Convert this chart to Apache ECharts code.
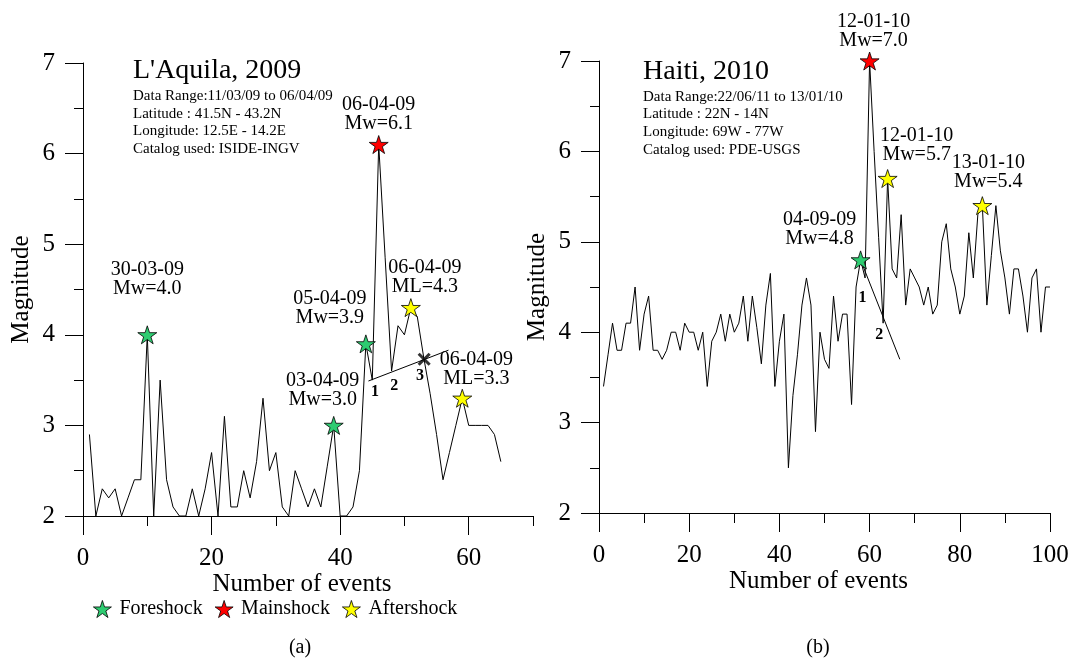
<!DOCTYPE html>
<html><head><meta charset="utf-8">
<script src="https://cdn.jsdelivr.net/npm/echarts@6/dist/echarts.min.js"></script>
<style>html,body{margin:0;padding:0;background:#fff}#c{width:1072px;height:660px}</style>
</head><body><div id="c"></div>
<script>
const FONT = '"Liberation Serif", "Times New Roman", serif';

// ---- data ----
const aquilaMag = [2.9, 2.0, 2.3, 2.2, 2.3, 2.0, 2.2, 2.4, 2.4, 4.0,
  2.0, 3.5, 2.4, 2.1, 2.0, 2.0, 2.3, 2.0, 2.3, 2.7,
  2.0, 3.1, 2.1, 2.1, 2.5, 2.2, 2.6, 3.3, 2.5, 2.7,
  2.1, 2.0, 2.5, 2.3, 2.1, 2.3, 2.1, 2.55, 3.0, 2.0,
  2.0, 2.1, 2.5, 3.9, 3.5, 6.1, 4.85, 3.6, 4.1, 4.0,
  4.3, 4.2, 3.75, 3.35, 2.9, 2.4, 2.7, 3.0, 3.3, 3.0,
  3.0, 3.0, 3.0, 2.9, 2.6];
const haitiMag = [3.4, 3.75, 4.1, 3.8, 3.8, 4.1, 4.1, 4.5, 3.8, 4.2,
  4.4, 3.8, 3.8, 3.7, 3.8, 4.0, 4.0, 3.8, 4.1, 4.0,
  4.0, 3.8, 4.0, 3.4, 3.9, 4.0, 4.2, 3.9, 4.2, 4.0,
  4.1, 4.4, 3.9, 4.4, 4.05, 3.65, 4.3, 4.65, 3.4, 3.9,
  4.2, 2.5, 3.3, 3.75, 4.3, 4.6, 4.3, 2.9, 4.0, 3.7,
  3.6, 4.4, 3.9, 4.2, 4.2, 3.2, 4.5, 4.8, 4.6, 7.0,
  6.0, 5.05, 4.1, 5.7, 4.7, 4.6, 5.3, 4.3, 4.7, 4.6,
  4.5, 4.3, 4.5, 4.2, 4.3, 5.0, 5.2, 4.7, 4.5, 4.2,
  4.4, 5.1, 4.6, 5.3, 5.4, 4.3, 4.85, 5.4, 4.9, 4.6,
  4.2, 4.7, 4.7, 4.4, 4.0, 4.6, 4.7, 4.0, 4.5, 4.5];

const shockTypes = ['Foreshock', 'Mainshock', 'Aftershock'];
// starred events: event number, type, annotation
const aquilaStarEvents = [10, 39, 44, 46, 51, 59];
const aquilaStarTypes  = ['Foreshock','Foreshock','Foreshock','Mainshock','Aftershock','Aftershock'];
const aquilaStarText   = ['30-03-09\nMw=4.0','03-04-09\nMw=3.0','05-04-09\nMw=3.9','06-04-09\nMw=6.1','06-04-09\nML=4.3','06-04-09\nML=3.3'];
const haitiStarEvents = [58, 60, 64, 85];
const haitiStarTypes  = ['Foreshock','Mainshock','Aftershock','Aftershock'];
const haitiStarText   = ['04-09-09\nMw=4.8','12-01-10\nMw=7.0','12-01-10\nMw=5.7','13-01-10\nMw=5.4'];

// trend lines and numbered marks
const aquilaTrend = [[44.4, 3.49], [56.85, 3.83]];
const aquilaCross = [[53.07, 3.73]];
const aquilaMarks = [[45.44, 3.37, '1'], [48.4, 3.44, '2'], [52.44, 3.55, '3']];
const haitiTrend = [[58.0, 4.8], [66.7, 3.7]];
const haitiMarks = [[58.44, 4.38, '1'], [62.13, 3.97, '2']];

const aquilaXLabels = [0, 20, 40, 60];
const haitiInfo = ['Data Range:22/06/11 to 13/01/10', 'Latitude : 22N - 14N', 'Longitude: 69W - 77W', 'Catalog used: PDE-USGS'];
const aquilaInfo = ['Data Range:11/03/09 to 06/04/09', 'Latitude : 41.5N - 43.2N', 'Longitude: 12.5E - 14.2E', 'Catalog used: ISIDE-INGV'];

// ---- styles ----
const aquilaLabelOffsets = [[0, -56], [-11, -35], [-36, -36], [0, -30], [14, -30], [14, -29]];
const haitiLabelOffsets = [[-41, -31], [4, -30], [29, -33], [6, -33]];
const typeColors = { Foreshock: '#2ECC71', Mainshock: '#FF0000', Aftershock: '#FFFF00' };
const STAR = 'path://M50,0 L61.2,34.5 L97.6,34.5 L68.2,55.9 L79.4,90.5 L50,69.1 L20.6,90.5 L31.8,55.9 L2.4,34.5 L38.8,34.5 Z';
const plainText = { color: '#000', opacity: 1, textBorderWidth: 0, textBorderColor: 'transparent', textShadowBlur: 0 };

function lineData(arr) { return arr.map((v, i) => [i + 1, v]); }

function starSeries(events, types, texts, offsets, mags, xi, yi) {
  return shockTypes.map(t => ({
    type: 'scatter', name: t, xAxisIndex: xi, yAxisIndex: yi, z: 5,
    symbol: STAR, symbolSize: [19, 18],
    itemStyle: { color: typeColors[t], borderColor: '#000', borderWidth: 0.8, opacity: 1 },
    emphasis: { disabled: true },
    data: events.map((e, i) => ({ e, i })).filter(o => types[o.i] === t).map(o => ({
      value: [o.e, mags[o.e - 1]],
      label: {
        show: true, position: 'inside', offset: offsets[o.i], formatter: texts[o.i],
        fontFamily: FONT, fontSize: 20, lineHeight: 19, align: 'center', ...plainText
      }
    }))
  }));
}

function markSeries(marks, xi, yi) {
  return {
    type: 'scatter', xAxisIndex: xi, yAxisIndex: yi, symbolSize: 1, z: 4,
    itemStyle: { color: 'transparent' },
    emphasis: { disabled: true },
    data: marks.map(m => ({ value: [m[0], m[1]], name: m[2] })),
    label: { show: true, position: 'inside', formatter: '{b}', fontFamily: FONT, fontSize: 16, fontWeight: 'bold', ...plainText }
  };
}

const axisLineStyle = { lineStyle: { color: '#000', width: 1 } };
function yAxisCfg(gridIndex, show) {
  return {
    type: 'value', gridIndex, min: 2, max: 7, interval: 1, show,
    name: show ? 'Magnitude' : '', nameLocation: 'middle', nameGap: 49, nameRotate: 90, nameMoveOverlap: false,
    nameTextStyle: { fontFamily: FONT, fontSize: 25, color: '#000' },
    axisLine: { show: true, ...axisLineStyle },
    axisTick: { show: true, length: 18, ...axisLineStyle },
    minorTick: { show: true, splitNumber: 2, length: 9, ...axisLineStyle },
    axisLabel: { fontFamily: FONT, fontSize: 25, color: '#000', margin: 28 },
    splitLine: { show: false }, minorSplitLine: { show: false }
  };
}

const option = {
  animation: false,
  backgroundColor: '#fff',
  textStyle: { fontFamily: FONT, color: '#000' },
  grid: [
    { left: 83, top: 63, width: 450, height: 453, outerBoundsMode: 'none', containLabel: false },
    { left: 83, top: 63, width: 450, height: 453, outerBoundsMode: 'none', containLabel: false },
    { left: 599, top: 61, width: 451, height: 452, outerBoundsMode: 'none', containLabel: false }
  ],
  xAxis: [
    {
      type: 'value', gridIndex: 0, min: 0, max: 70, interval: 10,
      name: 'Number of events', nameLocation: 'middle', nameGap: 56, nameMoveOverlap: false,
      nameTextStyle: { fontFamily: FONT, fontSize: 25, color: '#000', padding: [0, 12, 0, 0] },
      axisLine: { show: true, onZero: false, ...axisLineStyle },
      axisTick: { show: true, length: 19, customValues: aquilaXLabels, ...axisLineStyle },
      axisLabel: { fontFamily: FONT, fontSize: 25, color: '#000', margin: 30, customValues: aquilaXLabels,
        formatter: v => (v % 20 === 0 ? String(v) : '') },
      splitLine: { show: false }
    },
    {
      type: 'value', gridIndex: 1, min: 0, max: 70, interval: 10,
      axisLine: { show: false },
      axisTick: { show: true, length: 10, ...axisLineStyle },
      axisLabel: { show: false }, splitLine: { show: false }
    },
    {
      type: 'value', gridIndex: 2, min: 0, max: 100, interval: 20,
      name: 'Number of events', nameLocation: 'middle', nameGap: 56, nameMoveOverlap: false,
      nameTextStyle: { fontFamily: FONT, fontSize: 25, color: '#000', padding: [0, 12, 0, 0] },
      axisLine: { show: true, onZero: false, ...axisLineStyle },
      axisTick: { show: true, length: 19, ...axisLineStyle },
      minorTick: { show: true, splitNumber: 2, length: 10, ...axisLineStyle },
      axisLabel: { fontFamily: FONT, fontSize: 25, color: '#000', margin: 30 },
      splitLine: { show: false }, minorSplitLine: { show: false }
    }
  ],
  yAxis: [ yAxisCfg(0, true), yAxisCfg(1, false), yAxisCfg(2, true) ],
  legend: {
    left: 93, top: 599, padding: 0, itemWidth: 18, itemHeight: 18, itemGap: 12,
    icon: STAR, selectedMode: false,
    itemStyle: { borderColor: '#000', borderWidth: 0.8 },
    data: shockTypes,
    textStyle: { fontFamily: FONT, fontSize: 20, color: '#000', padding: [0, 0, 0, 3] }
  },
  graphic: [
    { type: 'text', style: { x: 133, y: 71, text: "L'Aquila, 2009", font: '28px ' + FONT, fill: '#000', verticalAlign: 'middle' } },
    { type: 'text', style: { x: 133, y: 87, text: aquilaInfo.join('\n'), font: '15px ' + FONT, lineHeight: 17.8, fill: '#000', verticalAlign: 'top' } },
    { type: 'text', style: { x: 643, y: 72, text: 'Haiti, 2010', font: '28px ' + FONT, fill: '#000', verticalAlign: 'middle' } },
    { type: 'text', style: { x: 643, y: 88, text: haitiInfo.join('\n'), font: '15px ' + FONT, lineHeight: 17.6, fill: '#000', verticalAlign: 'top' } },
    { type: 'text', style: { x: 300, y: 648, text: '(a)', font: '20px ' + FONT, fill: '#000', align: 'center', verticalAlign: 'middle' } },
    { type: 'text', style: { x: 818, y: 648, text: '(b)', font: '20px ' + FONT, fill: '#000', align: 'center', verticalAlign: 'middle' } }
  ],
  series: [
    { type: 'line', xAxisIndex: 0, yAxisIndex: 0, data: lineData(aquilaMag), showSymbol: false, symbol: 'none',
      lineStyle: { color: '#000', width: 1 }, z: 2 },
    { type: 'line', xAxisIndex: 0, yAxisIndex: 0, data: aquilaTrend, showSymbol: false, symbol: 'none',
      lineStyle: { color: '#000', width: 1 }, z: 2 },
    { type: 'scatter', xAxisIndex: 0, yAxisIndex: 0, data: aquilaCross, symbol: 'path://M0,0L10,10M10,0L0,10', symbolSize: 11,
      itemStyle: { color: 'transparent', borderColor: '#000', borderWidth: 3 }, emphasis: { disabled: true }, z: 4 },
    markSeries(aquilaMarks, 0, 0),
    ...starSeries(aquilaStarEvents, aquilaStarTypes, aquilaStarText, aquilaLabelOffsets, aquilaMag, 0, 0),
    { type: 'line', xAxisIndex: 2, yAxisIndex: 2, data: lineData(haitiMag), showSymbol: false, symbol: 'none',
      lineStyle: { color: '#000', width: 1 }, z: 2 },
    { type: 'line', xAxisIndex: 2, yAxisIndex: 2, data: haitiTrend, showSymbol: false, symbol: 'none',
      lineStyle: { color: '#000', width: 1 }, z: 2 },
    markSeries(haitiMarks, 2, 2),
    ...starSeries(haitiStarEvents, haitiStarTypes, haitiStarText, haitiLabelOffsets, haitiMag, 2, 2)
  ]
};

const chart = echarts.init(document.getElementById('c'), null, { renderer: 'canvas' });
chart.setOption(option);
</script>
</body></html>
